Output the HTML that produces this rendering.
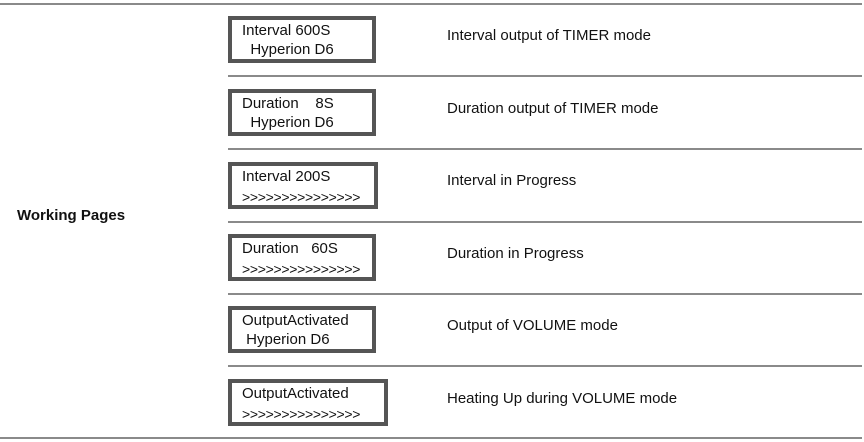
<!DOCTYPE html>
<html><head><style>
body{margin:0;width:864px;height:442px;background:#fff;position:relative;font-family:"Liberation Sans",sans-serif;overflow:hidden}
.l{position:absolute;height:2px;background:#8a8a8a}
.b{position:absolute;left:228px;width:140px;height:39px;border:4px solid #555;font-size:15px;color:#111;line-height:18px}
.b div{position:absolute;left:10px;white-space:pre}
.g{font-size:14px;letter-spacing:-0.3px}
.d{position:absolute;left:447px;font-size:15px;color:#111;line-height:17px}
</style></head><body>
<div class="l" style="left:0;width:862px;top:3px"></div>
<div class="l" style="left:228px;width:634px;top:75px"></div>
<div class="l" style="left:228px;width:634px;top:148px"></div>
<div class="l" style="left:228px;width:634px;top:221px"></div>
<div class="l" style="left:228px;width:634px;top:293px"></div>
<div class="l" style="left:228px;width:634px;top:365px"></div>
<div class="l" style="left:0;width:862px;top:437px"></div>
<div style="position:absolute;left:17px;top:207px;font-size:15px;font-weight:bold;color:#111">Working Pages</div>

<div class="b" style="top:16px"><div style="top:2px">Interval 600S</div><div style="top:21px">  Hyperion D6</div></div>
<div class="b" style="top:89px"><div style="top:2px">Duration    8S</div><div style="top:21px">  Hyperion D6</div></div>
<div class="b" style="top:162px;width:142px"><div style="top:2px">Interval 200S</div><div class="g" style="top:22px">&gt;&gt;&gt;&gt;&gt;&gt;&gt;&gt;&gt;&gt;&gt;&gt;&gt;&gt;&gt;</div></div>
<div class="b" style="top:234px"><div style="top:2px">Duration   60S</div><div class="g" style="top:22px">&gt;&gt;&gt;&gt;&gt;&gt;&gt;&gt;&gt;&gt;&gt;&gt;&gt;&gt;&gt;</div></div>
<div class="b" style="top:306px"><div style="top:2px">OutputActivated</div><div style="top:21px"> Hyperion D6</div></div>
<div class="b" style="top:379px;width:152px"><div style="top:2px">OutputActivated</div><div class="g" style="top:22px">&gt;&gt;&gt;&gt;&gt;&gt;&gt;&gt;&gt;&gt;&gt;&gt;&gt;&gt;&gt;</div></div>

<div class="d" style="top:27px">Interval output of TIMER mode</div>
<div class="d" style="top:100px">Duration output of TIMER mode</div>
<div class="d" style="top:172px">Interval in Progress</div>
<div class="d" style="top:245px">Duration in Progress</div>
<div class="d" style="top:317px">Output of VOLUME mode</div>
<div class="d" style="top:390px">Heating Up during VOLUME mode</div>
</body></html>
